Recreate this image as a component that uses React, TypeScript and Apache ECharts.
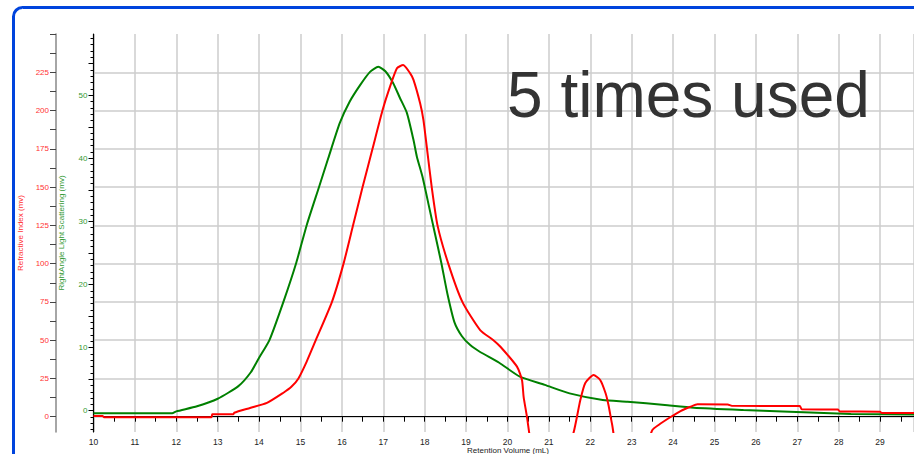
import React, { useEffect, useRef } from 'react';
import * as echarts from 'echarts';

const redX = [10.0, 10.22, 10.25, 12.85, 12.87, 13.38, 13.4, 13.78, 14.19, 14.58, 14.78, 14.95, 15.15, 15.37, 15.76, 16.04, 16.27, 16.5, 16.74, 16.98, 17.13, 17.33, 17.48, 17.65, 17.73, 17.89, 17.97, 18.06, 18.17, 18.31, 18.57, 18.91, 19.34, 19.66, 19.83, 20.23, 20.35, 20.39, 20.47, 20.55, 20.6, 21.45, 21.6, 21.76, 21.88, 22.08, 22.24, 22.37, 22.44, 22.53, 22.66, 23.31, 23.5, 23.65, 23.94, 24.18, 24.42, 24.59, 25.32, 25.42, 27.06, 27.11, 27.98, 28.03, 29.0, 29.04, 29.9];
const redY = [0.5, 0.5, -0.3, -0.3, 1.6, 1.6, 2.6, 5.7, 9.0, 15.5, 19.5, 25, 36, 50, 75, 100, 125, 150, 175, 200, 213, 227.6, 229.7, 224.3, 220, 204.7, 193.8, 174.2, 150, 125, 100, 75, 56.6, 50, 45.7, 32.7, 24, 13, 0, -15, -20, -20, -10, 10.9, 22, 27.2, 24, 15.3, 7.6, -5.4, -20, -20, -8.7, -5.4, -0.2, 3.7, 6.5, 8.1, 8.0, 7.1, 7.0, 4.8, 4.7, 3.4, 3.3, 2.4, 2.4];

const greenX = [10.0, 11.9, 12.0, 12.5, 13.0, 13.5, 13.8, 14.0, 14.25, 14.6, 14.9, 15.15, 15.45, 15.67, 15.95, 16.19, 16.44, 16.68, 16.88, 17.05, 17.24, 17.4, 17.57, 17.73, 17.81, 17.95, 18.1, 18.25, 18.4, 18.55, 18.72, 18.9, 19.1, 19.33, 19.8, 20.3, 20.9, 21.5, 22.3, 22.9, 23.8, 24.5, 25.7, 26.65, 28.3, 29.9];
const greenY = [-0.4, -0.4, -0.1, 0.7, 1.9, 3.9, 6.1, 8.4, 11.2, 17.5, 23.5, 29.4, 35.5, 40.0, 45.6, 49.0, 51.6, 53.7, 54.5, 53.8, 51.9, 49.6, 47.2, 42.9, 40.3, 37.0, 32.5, 28.0, 23.5, 18.5, 14.0, 11.8, 10.4, 9.35, 7.6, 5.4, 4.1, 2.75, 1.7, 1.43, 0.9, 0.48, 0.11, -0.13, -0.5, -0.6];

const xTickLabels = [10, 11, 12, 13, 14, 15, 16, 17, 18, 19, 20, 21, 22, 23, 24, 25, 26, 27, 28, 29];
const redTickLabels = [0, 25, 50, 75, 100, 125, 150, 175, 200, 225];
const greenTickLabels = [0, 10, 20, 30, 40, 50];
const redTicks = [0, 12.5, 25, 37.5, 50, 62.5, 75, 87.5, 100, 112.5, 125, 137.5, 150, 162.5, 175, 187.5, 200, 212.5, 225, 237.5, 250];
const greenMajorTicks = [0, 5, 10, 15, 20, 25, 30, 35, 40, 45, 50, 55];
const greenMinorTicks = [-3, -2, -1, 0, 1, 2, 3, 4, 5, 6, 7, 8, 9, 10, 11, 12, 13, 14, 15, 16, 17, 18, 19, 20, 21, 22, 23, 24, 25, 26, 27, 28, 29, 30, 31, 32, 33, 34, 35, 36, 37, 38, 39, 40, 41, 42, 43, 44, 45, 46, 47, 48, 49, 50, 51, 52, 53, 54, 55, 56, 57, 58, 59];

const xTitle = 'Retention Volume (mL)';
const redTitle = 'Refractive Index (mv)';
const greenTitle = 'RightAngle Light Scattering (mv)';
const bigText = '5 times used';

const FONT = '"Liberation Sans", Arial, sans-serif';

export default function App() {
  const ref = useRef<HTMLDivElement>(null);
  useEffect(() => {
    const chart = echarts.init(ref.current!, null, { renderer: 'svg' });
    const redData = redX.map((x, i) => [x, redY[i]]);
    const greenData = greenX.map((x, i) => [x, greenY[i]]);
    const gMin = -3.37;
    const gMax = 59.7;
    const xMax = 29.82;
    chart.setOption({
      animation: false,
      backgroundColor: '#ffffff',
      textStyle: { fontFamily: FONT },
      grid: { left: 93.5, top: 34, right: 0, bottom: 22, containLabel: false, outerBoundsMode: 'none' },
      xAxis: [
        {
          type: 'value', min: 10, max: xMax, interval: 0.5, position: 'bottom',
          axisLine: { show: true, lineStyle: { color: '#000', width: 1 } },
          axisTick: { show: true, length: 5, lineStyle: { color: '#000' } },
          axisLabel: { customValues: xTickLabels, fontSize: 8.5, color: '#222', margin: 5, fontFamily: FONT },
          splitLine: { show: false },
        },
        {
          type: 'value', min: 10, max: xMax, interval: 1, position: 'bottom',
          axisLine: { show: false }, axisTick: { show: false }, axisLabel: { show: false },
          splitLine: { show: true, lineStyle: { color: '#cccccc', width: 1.5 } },
        },
      ],
      yAxis: [
        {
          type: 'value', min: -10, max: 250, position: 'left', offset: 37.5,
          axisLine: { show: true, lineStyle: { color: '#888', width: 1.5 } },
          axisTick: { show: true, customValues: redTicks, length: 6, lineStyle: { color: '#444' } },
          axisLabel: { customValues: redTickLabels, color: '#ff3333', fontSize: 8, margin: 7, fontFamily: FONT },
          splitLine: { show: false },
          name: redTitle, nameLocation: 'middle', nameRotate: 90, nameGap: 30,
          nameTextStyle: { color: '#ff3333', fontSize: 8, fontFamily: FONT },
        },
        {
          type: 'value', min: gMin, max: gMax, position: 'left', offset: 0,
          axisLine: { show: true, lineStyle: { color: '#000', width: 1.2 } },
          axisTick: { show: true, customValues: greenMinorTicks, length: 3, lineStyle: { color: '#000' } },
          axisLabel: { show: false },
          splitLine: { show: false },
          name: greenTitle, nameLocation: 'middle', nameRotate: 90, nameGap: 28.5,
          nameTextStyle: { color: '#339933', fontSize: 8, fontFamily: FONT },
        },
        {
          type: 'value', min: gMin, max: gMax, position: 'left', offset: 0,
          axisLine: { show: false },
          axisTick: { show: true, customValues: greenMajorTicks, length: 5, lineStyle: { color: '#000' } },
          axisLabel: { customValues: greenTickLabels, color: '#339933', fontSize: 8, margin: 6, fontFamily: FONT },
          splitLine: { show: false },
        },
        {
          type: 'value', min: -10, max: 250, position: 'left', offset: 0,
          axisLine: { show: false },
          axisTick: { show: false, customValues: redTickLabels },
          axisLabel: { show: false },
          splitLine: { show: true, lineStyle: { color: '#cccccc', width: 1.5 } },
        },
      ],
      series: [
        {
          type: 'line', xAxisIndex: 0, yAxisIndex: 1, data: greenData, symbol: 'none', showSymbol: false,
          smooth: 0.2,
          lineStyle: { color: '#008000', width: 2 }, itemStyle: { color: '#008000' }, z: 3,
        },
        {
          type: 'line', xAxisIndex: 0, yAxisIndex: 0, data: redData, symbol: 'none', showSymbol: false,
          smooth: 0.2,
          lineStyle: { color: '#ff0000', width: 2 }, itemStyle: { color: '#ff0000' }, z: 4,
        },
      ],
      graphic: [
        {
          type: 'text', x: 507, y: 94.5, z: 50,
          style: { text: bigText, fontSize: 64, fontFamily: FONT, fill: '#333333', align: 'left', verticalAlign: 'middle' },
        },
        {
          type: 'text', x: 508, y: 450, z: 50,
          style: { text: xTitle, fontSize: 8, fontFamily: FONT, fill: '#222222', align: 'center', verticalAlign: 'middle' },
        },
        {
          type: 'rect', z: 100,
          shape: { x: 13.5, y: 7.5, width: 940, height: 490, r: 9 },
          style: { fill: 'none', stroke: '#0044dd', lineWidth: 3 },
        },
      ],
    });
    return () => chart.dispose();
  }, []);
  return <div ref={ref} style={{ position: 'absolute', left: 0, top: 0, width: 914, height: 454, background: '#fff' }} />;
}
